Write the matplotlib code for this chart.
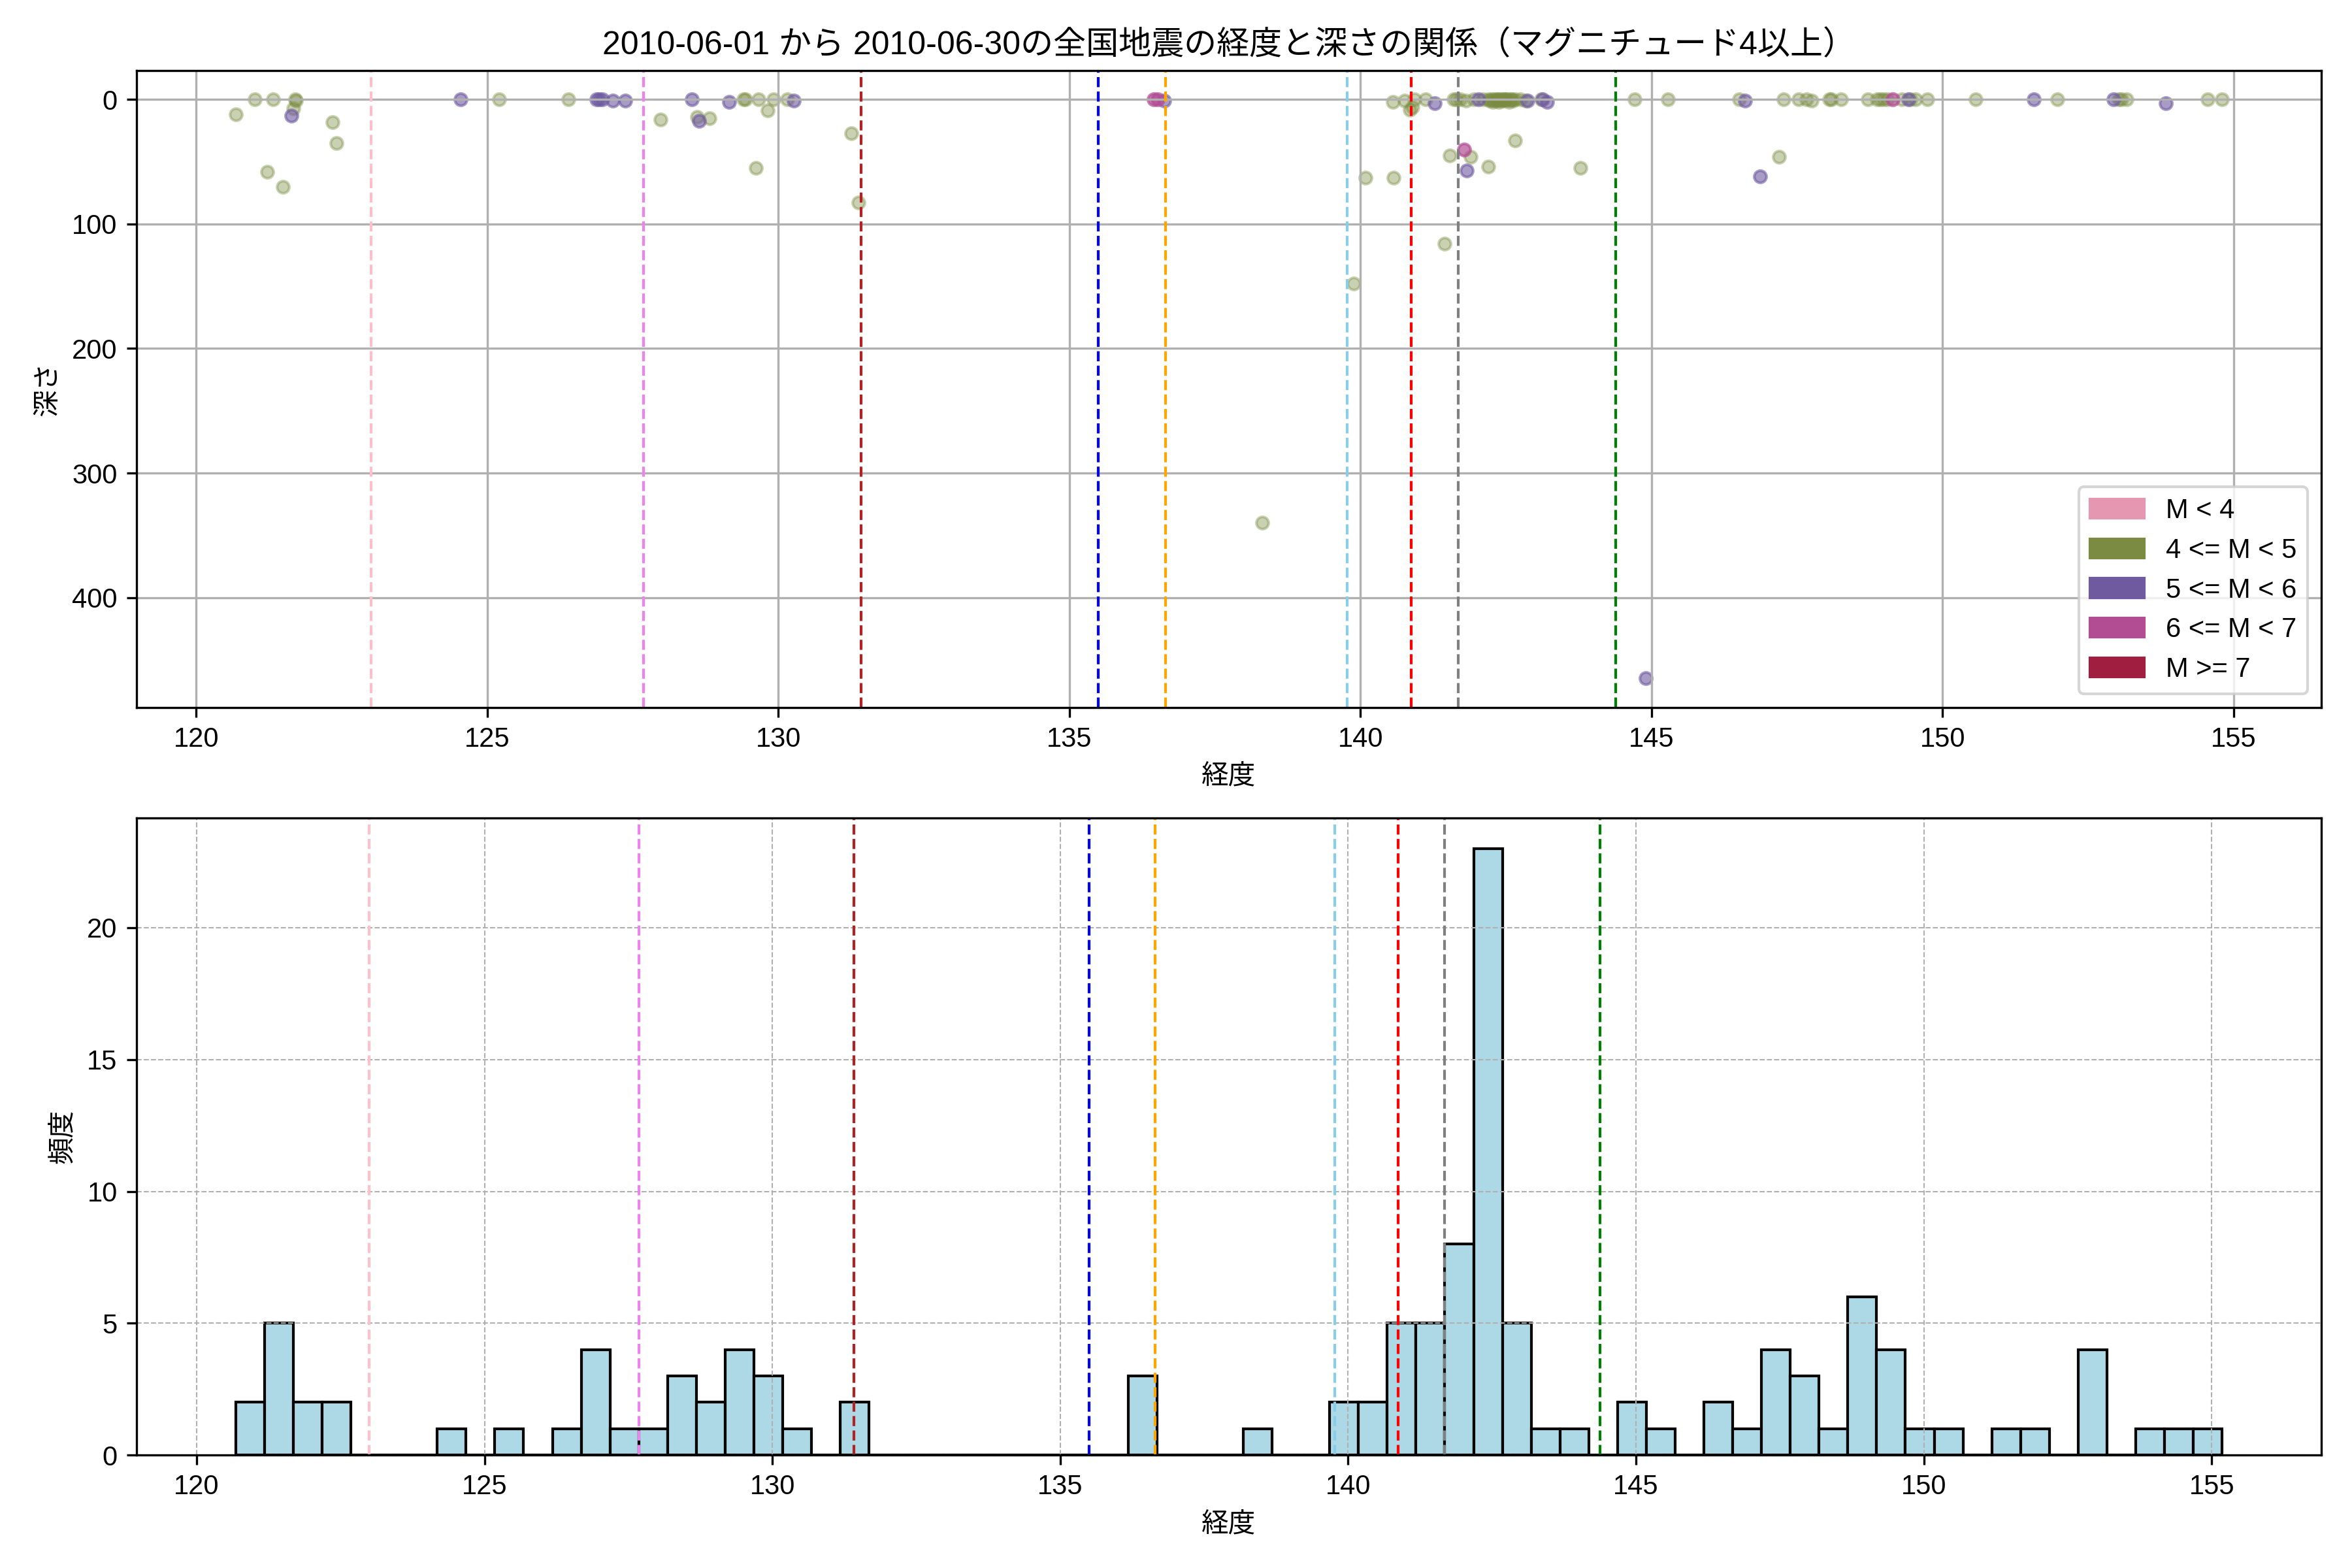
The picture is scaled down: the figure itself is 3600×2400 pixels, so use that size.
import numpy as np
import matplotlib
matplotlib.use('Agg')
import matplotlib.pyplot as plt
from matplotlib.patches import Patch

plt.rcParams['font.family'] = ['Liberation Sans', 'Noto Sans CJK JP', 'DejaVu Sans']

TITLE = '2010-06-01 から 2010-06-30の全国地震の経度と深さの関係（マグニチュード4以上）'

# earthquake list: longitude [deg], depth [km], magnitude
LONGITUDE = [
    120.68, 121.01, 121.22, 121.32, 121.49, 121.64, 121.67, 121.70, 121.72, 122.34,
    122.41, 124.54, 125.20, 126.39, 126.88, 126.92, 126.98, 127.16, 127.37, 127.98,
    128.51, 128.61, 128.64, 128.82, 129.15, 129.40, 129.43, 129.61, 129.66, 129.82,
    129.92, 130.15, 130.27, 131.25, 131.38, 136.45, 136.52, 136.63, 138.31, 139.88,
    140.09, 140.56, 140.57, 140.76, 140.85, 140.89, 140.93, 141.12, 141.27, 141.44,
    141.53, 141.60, 141.65, 141.71, 141.78, 141.81, 141.82, 141.89, 141.95, 142.03,
    142.10, 142.19, 142.20, 142.22, 142.25, 142.27, 142.30, 142.32, 142.34, 142.36,
    142.38, 142.40, 142.42, 142.44, 142.46, 142.48, 142.50, 142.52, 142.55, 142.58,
    142.60, 142.62, 142.65, 142.66, 142.75, 142.84, 142.87, 143.10, 143.13, 143.21,
    143.78, 144.71, 144.90, 145.28, 146.50, 146.61, 146.86, 147.19, 147.27, 147.53,
    147.66, 147.75, 148.05, 148.09, 148.26, 148.71, 148.87, 148.93, 148.98, 149.05,
    149.14, 149.30, 149.41, 149.45, 149.53, 149.74, 150.57, 151.57, 151.97, 152.94,
    153.02, 153.07, 153.16, 153.83, 154.55, 154.80,
]
DEPTH = [
    12, 0, 58, 0, 70, 13, 7, 0, 1, 18,
    35, 0, 0, 0, 0, 0, 0, 1, 1, 16,
    0, 14, 17, 15, 2, 0, 0, 55, 0, 9,
    0, 0, 1, 27, 83, 0, 0, 1, 340, 148,
    63, 2, 63, 1, 8, 6, 0, 0, 3, 116,
    45, 0, 0, 0, 40, 1, 57, 46, 0, 0,
    0, 54, 0, 1, 0, 2, 0, 1, 0, 0,
    2, 0, 1, 0, 0, 1, 0, 0, 2, 0,
    0, 1, 33, 0, 0, 1, 1, 0, 0, 2,
    55, 0, 465, 0, 0, 1, 62, 46, 0, 0,
    0, 1, 0, 0, 0, 0, 0, 0, 0, 0,
    0, 0, 0, 0, 0, 0, 0, 0, 0, 0,
    0, 0, 0, 3, 0, 0,
]
MAGNITUDE = [
    4.2, 4.1, 4.3, 4.0, 4.4, 5.1, 4.2, 4.5, 4.3, 4.1,
    4.2, 5.2, 4.0, 4.1, 5.0, 5.3, 5.1, 5.0, 5.2, 4.3,
    5.0, 4.4, 5.1, 4.2, 5.4, 4.6, 4.1, 4.0, 4.2, 4.3,
    4.1, 4.0, 5.0, 4.1, 4.0, 6.1, 6.3, 5.5, 4.4, 4.2,
    4.0, 4.1, 4.3, 4.0, 4.2, 4.5, 4.1, 4.0, 5.0, 4.1,
    4.2, 4.3, 4.0, 4.4, 6.0, 4.2, 5.1, 4.0, 4.1, 5.3,
    4.5, 4.1, 4.2, 4.0, 4.3, 4.1, 4.6, 4.2, 4.0, 4.4,
    4.1, 4.3, 4.0, 4.2, 4.5, 4.1, 4.0, 4.3, 4.2, 4.1,
    4.4, 4.0, 4.0, 4.2, 4.3, 4.1, 5.2, 4.6, 5.0, 5.5,
    4.2, 4.1, 5.2, 4.0, 4.2, 5.0, 5.1, 4.0, 4.1, 4.2,
    4.0, 4.3, 4.6, 4.4, 4.1, 4.0, 4.2, 4.1, 4.3, 4.0,
    6.0, 4.2, 5.1, 4.4, 4.0, 4.1, 4.0, 5.0, 4.2, 5.3,
    4.5, 4.1, 4.0, 5.0, 4.1, 4.0,
]

# magnitude classes
MAG_LABELS = ['M < 4', '4 <= M < 5', '5 <= M < 6', '6 <= M < 7', 'M >= 7']
MAG_LOWER = [-np.inf, 4, 5, 6, 7]
MAG_UPPER = [4, 5, 6, 7, np.inf]
MAG_COLORS = ['#e597b2', '#7b8c42', '#6f5aa0', '#b24d94', '#a01f41']
MAG_ALPHA = [0.4, 0.4, 0.6, 0.7, 0.8]

# reference longitudes (dashed lines)
REF_LONGITUDES = [123.0, 127.68, 131.42, 135.5, 136.65, 139.77, 140.87, 141.68, 144.38]
REF_COLORS = ['pink', 'violet', 'firebrick', 'blue', 'orange', 'skyblue', 'red', 'gray', 'green']

lon = np.array(LONGITUDE)
depth = np.array(DEPTH)
mag = np.array(MAGNITUDE)

fig, (ax1, ax2) = plt.subplots(2, 1, figsize=(12, 8), dpi=300)
fig.subplots_adjust(left=0.058, right=0.987, top=0.955, bottom=0.072, hspace=0.174)

# scatter: longitude vs depth
for lo, hi, color, alpha in zip(MAG_LOWER, MAG_UPPER, MAG_COLORS, MAG_ALPHA):
    mask = (mag >= lo) & (mag < hi)
    if mask.any():
        ax1.scatter(lon[mask], depth[mask], color=color, alpha=alpha, s=20)

for x, c in zip(REF_LONGITUDES, REF_COLORS):
    ax1.axvline(x, color=c, linestyle='--', linewidth=1)

ax1.invert_yaxis()
ax1.set_title(TITLE)
ax1.set_xlabel('経度')
ax1.set_ylabel('深さ')
ax1.grid(True)
handles = [Patch(color=c, label=l) for c, l in zip(MAG_COLORS, MAG_LABELS)]
ax1.legend(handles=handles, loc='lower right')

# histogram of longitude
bins = np.arange(lon.min(), lon.max() + 0.5, 0.5)
ax2.hist(lon, bins=bins, color='lightblue', edgecolor='black')
for x, c in zip(REF_LONGITUDES, REF_COLORS):
    ax2.axvline(x, color=c, linestyle='--', linewidth=1)
ax2.set_xlabel('経度')
ax2.set_ylabel('頻度')
ax2.grid(True, linestyle='--', linewidth=0.5)

fig.savefig('out.png', dpi=300)
